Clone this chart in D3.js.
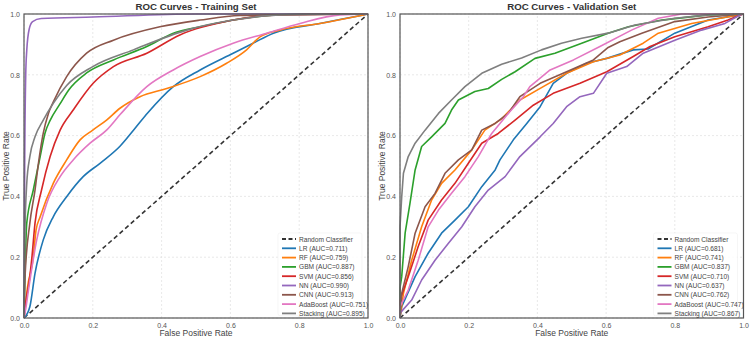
<!DOCTYPE html>
<html><head><meta charset="utf-8">
<script src="https://cdn.jsdelivr.net/npm/d3@7"></script>
<style>body{margin:0;background:#fff}svg{display:block;font-family:"Liberation Sans",Arial,sans-serif}</style>
</head><body><svg id="c" width="750" height="339"></svg>
<script>
const models = ["LR","RF","GBM","SVM","NN","CNN","AdaBoost","Stacking"];
const colors = ["#1f77b4","#ff7f0e","#2ca02c","#d62728","#9467bd","#8c564b","#e377c2","#7f7f7f"];
const ticks = [0,0.2,0.4,0.6,0.8,1.0];
const trainAUC = [0.711,0.759,0.887,0.856,0.990,0.913,0.751,0.895];
const valAUC = [0.681,0.741,0.837,0.710,0.637,0.762,0.747,0.867];

// Training set curves [fpr, tpr]
const trainLR = [[0,0],[0.017,0.037],[0.032,0.147],[0.056,0.257],[0.085,0.333],[0.124,0.399],[0.172,0.465],[0.221,0.509],[0.279,0.565],[0.32,0.62],[0.36,0.675],[0.434,0.761],[0.512,0.816],[0.608,0.871],[0.666,0.904],[0.725,0.937],[0.86,0.969],[0.987,0.997],[1,1]];
const trainRF = [[0,0],[0.01,0.1],[0.027,0.2],[0.035,0.289],[0.047,0.333],[0.085,0.443],[0.124,0.52],[0.163,0.586],[0.2,0.618],[0.24,0.651],[0.279,0.69],[0.337,0.728],[0.415,0.755],[0.512,0.794],[0.589,0.838],[0.647,0.882],[0.686,0.925],[0.744,0.947],[0.86,0.969],[0.987,0.997],[1,1]];
const trainGBM = [[0,0],[0.003,0.15],[0.008,0.312],[0.027,0.421],[0.047,0.531],[0.061,0.608],[0.076,0.65],[0.105,0.705],[0.13,0.75],[0.182,0.806],[0.26,0.849],[0.357,0.893],[0.434,0.937],[0.512,0.958],[0.666,0.99],[0.8,1],[1,1]];
const trainSVM = [[0,0],[0.005,0.05],[0.017,0.136],[0.023,0.2],[0.032,0.312],[0.051,0.421],[0.076,0.531],[0.105,0.618],[0.143,0.684],[0.201,0.772],[0.26,0.827],[0.357,0.871],[0.453,0.931],[0.608,0.98],[0.744,0.997],[1,1]];
const trainNN = [[0,0],[0.002,0.5],[0.005,0.8],[0.008,0.88],[0.015,0.95],[0.025,0.975],[0.05,0.985],[0.2,0.99],[0.5,1],[1,1]];
const trainCNN = [[0,0],[0.003,0.136],[0.017,0.312],[0.032,0.421],[0.042,0.509],[0.056,0.608],[0.071,0.673],[0.085,0.71],[0.124,0.794],[0.182,0.871],[0.26,0.914],[0.395,0.958],[0.512,0.98],[0.628,0.995],[1,1]];
const trainAda = [[0,0],[0.005,0.03],[0.013,0.092],[0.037,0.257],[0.066,0.377],[0.105,0.465],[0.143,0.52],[0.192,0.575],[0.24,0.618],[0.28,0.67],[0.357,0.761],[0.434,0.816],[0.512,0.86],[0.608,0.904],[0.706,0.937],[0.802,0.969],[0.919,0.997],[1,1]];
const trainStack = [[0,0],[0.002,0.25],[0.008,0.443],[0.017,0.531],[0.032,0.596],[0.056,0.651],[0.085,0.706],[0.124,0.765],[0.2,0.827],[0.318,0.882],[0.473,0.947],[0.608,0.98],[0.75,0.997],[1,1]];

// Validation set curves [fpr, tpr]
const valLR = [[0,0],[0.005,0.037],[0.044,0.136],[0.082,0.213],[0.121,0.279],[0.16,0.322],[0.199,0.366],[0.238,0.432],[0.277,0.487],[0.291,0.52],[0.33,0.586],[0.369,0.64],[0.408,0.695],[0.446,0.772],[0.485,0.805],[0.543,0.838],[0.602,0.854],[0.679,0.882],[0.722,0.885],[0.8,0.937],[0.897,0.98],[0.99,0.997],[1,1]];
const valRF = [[0,0],[0.01,0.081],[0.034,0.19],[0.063,0.3],[0.092,0.388],[0.121,0.443],[0.16,0.487],[0.209,0.553],[0.247,0.618],[0.296,0.655],[0.349,0.717],[0.417,0.761],[0.485,0.805],[0.563,0.843],[0.64,0.865],[0.708,0.904],[0.752,0.937],[0.849,0.969],[0.984,0.997],[1,1]];
const valGBM = [[0,0],[0,0.1],[0.005,0.136],[0.015,0.28],[0.029,0.377],[0.044,0.487],[0.063,0.564],[0.092,0.596],[0.131,0.64],[0.15,0.684],[0.17,0.717],[0.218,0.745],[0.257,0.755],[0.296,0.785],[0.335,0.81],[0.393,0.854],[0.451,0.871],[0.529,0.904],[0.606,0.937],[0.665,0.958],[0.762,0.98],[0.897,0.997],[1,1]];
const valSVM = [[0,0],[0,0.059],[0.024,0.136],[0.053,0.235],[0.082,0.322],[0.121,0.388],[0.16,0.443],[0.199,0.509],[0.238,0.575],[0.286,0.607],[0.335,0.651],[0.388,0.7],[0.446,0.739],[0.524,0.772],[0.602,0.81],[0.679,0.86],[0.728,0.893],[0.8,0.925],[0.897,0.958],[0.955,0.98],[0.99,0.997],[1,1]];
const valNN = [[0,0],[0,0.016],[0.034,0.059],[0.063,0.125],[0.102,0.19],[0.141,0.246],[0.18,0.3],[0.218,0.366],[0.257,0.421],[0.306,0.465],[0.349,0.531],[0.408,0.596],[0.446,0.64],[0.485,0.695],[0.524,0.728],[0.563,0.739],[0.602,0.805],[0.66,0.827],[0.708,0.871],[0.8,0.914],[0.878,0.947],[0.946,0.969],[0.995,1],[1,1]];
const valCNN = [[0,0],[0.005,0.081],[0.024,0.169],[0.044,0.279],[0.073,0.366],[0.102,0.41],[0.131,0.476],[0.17,0.52],[0.209,0.553],[0.238,0.618],[0.277,0.64],[0.315,0.673],[0.349,0.728],[0.408,0.772],[0.485,0.81],[0.563,0.849],[0.606,0.89],[0.64,0.909],[0.704,0.937],[0.8,0.975],[0.897,0.99],[1,1]];
const valAda = [[0,0],[0,0.037],[0.024,0.092],[0.053,0.19],[0.082,0.3],[0.112,0.355],[0.15,0.41],[0.189,0.465],[0.228,0.531],[0.267,0.607],[0.315,0.673],[0.359,0.728],[0.378,0.761],[0.437,0.816],[0.505,0.849],[0.582,0.893],[0.674,0.947],[0.752,0.986],[0.82,1],[1,1]];
const valStack = [[0,0],[0,0.3],[0.005,0.399],[0.01,0.476],[0.024,0.531],[0.044,0.575],[0.073,0.618],[0.112,0.673],[0.15,0.717],[0.189,0.761],[0.238,0.805],[0.296,0.835],[0.354,0.855],[0.412,0.882],[0.47,0.904],[0.529,0.92],[0.606,0.937],[0.684,0.964],[0.8,0.986],[0.897,0.997],[1,1]];

const trainCurves = [trainLR,trainRF,trainGBM,trainSVM,trainNN,trainCNN,trainAda,trainStack];
const valCurves = [valLR,valRF,valGBM,valSVM,valNN,valCNN,valAda,valStack];

const svg = d3.select("#c");

function panel(x0, x1, title, curves, aucs, smooth) {
  const y0 = 318, y1 = 14;
  const x = d3.scaleLinear().domain([0,1]).range([x0,x1]);
  const y = d3.scaleLinear().domain([0,1]).range([y0,y1]);
  const g = svg.append("g");
  // grid
  g.append("g").selectAll("line").data(ticks).join("line")
    .attr("x1",d=>x(d)).attr("x2",d=>x(d)).attr("y1",y0).attr("y2",y1)
    .attr("stroke","#e2e2e2").attr("stroke-width",0.8).attr("stroke-dasharray","2,2");
  g.append("g").selectAll("line").data(ticks).join("line")
    .attr("y1",d=>y(d)).attr("y2",d=>y(d)).attr("x1",x0).attr("x2",x1)
    .attr("stroke","#e2e2e2").attr("stroke-width",0.8).attr("stroke-dasharray","2,2");
  // random
  g.append("path").datum([[0,0],[1,1]])
    .attr("d", d3.line().x(d=>x(d[0])).y(d=>y(d[1])))
    .attr("stroke","#333").attr("stroke-width",1.6).attr("stroke-dasharray","4.5,3").attr("fill","none");
  const line = d3.line().x(d=>x(d[0])).y(d=>y(d[1])).curve(smooth ? d3.curveMonotoneX : d3.curveLinear);
  curves.forEach((c,i)=>{
    g.append("path").datum(c).attr("d",line).attr("fill","none")
      .attr("stroke",colors[i]).attr("stroke-width",1.6).attr("stroke-linejoin","round");
  });
  // axes
  const xa = g.append("g").attr("transform",`translate(0,${y0})`)
    .call(d3.axisBottom(x).tickValues(ticks).tickFormat(d3.format(".1f")).tickSize(0).tickPadding(5));
  const ya = g.append("g").attr("transform",`translate(${x0},0)`)
    .call(d3.axisLeft(y).tickValues(ticks).tickFormat(d3.format(".1f")).tickSize(0).tickPadding(4));
  [xa,ya].forEach(a=>{a.select(".domain").remove();
    a.selectAll("text").attr("fill","#555").style("font-size","7px");});
  // frame
  g.append("rect").attr("x",x0).attr("y",y1).attr("width",x1-x0).attr("height",y0-y1)
    .attr("fill","none").attr("stroke","#555").attr("stroke-width",1.2);
  // title / labels
  g.append("text").attr("x",(x0+x1)/2).attr("y",10).attr("text-anchor","middle")
    .style("font-size","9.7px").style("font-weight","bold").attr("fill","#333").text(title);
  g.append("text").attr("x",(x0+x1)/2).attr("y",336).attr("text-anchor","middle")
    .style("font-size","8.5px").attr("fill","#444").text("False Positive Rate");
  g.append("text").attr("transform",`translate(${x0-15},${(y0+y1)/2}) rotate(-90)`).attr("text-anchor","middle")
    .style("font-size","8.5px").attr("fill","#444").text("True Positive Rate");
  // legend
  const lx = x1 - 86, ly = 239, dy = 9.3;
  g.append("rect").attr("x",lx-4).attr("y",ly-6).attr("width",84).attr("height",dy*9-1)
    .attr("rx",2).attr("fill","#fff").attr("fill-opacity",0.85).attr("stroke","#f0f0f0").attr("stroke-width",0.6);
  const items = [{label:"Random Classifier",color:"#333",dash:"4,2.5"}]
    .concat(models.map((m,i)=>({label:`${m} (AUC=${aucs[i].toFixed(3)})`,color:colors[i],dash:null})));
  items.forEach((it,i)=>{
    const yy = ly + i*dy;
    g.append("line").attr("x1",lx).attr("x2",lx+14).attr("y1",yy).attr("y2",yy)
      .attr("stroke",it.color).attr("stroke-width",1.8).attr("stroke-dasharray",it.dash);
    g.append("text").attr("x",lx+17).attr("y",yy+2.5).style("font-size","6.6px").attr("fill","#444").text(it.label);
  });
}
panel(24, 368, "ROC Curves - Training Set", trainCurves, trainAUC, true);
panel(400, 743.5, "ROC Curves - Validation Set", valCurves, valAUC, false);
</script></body></html>
